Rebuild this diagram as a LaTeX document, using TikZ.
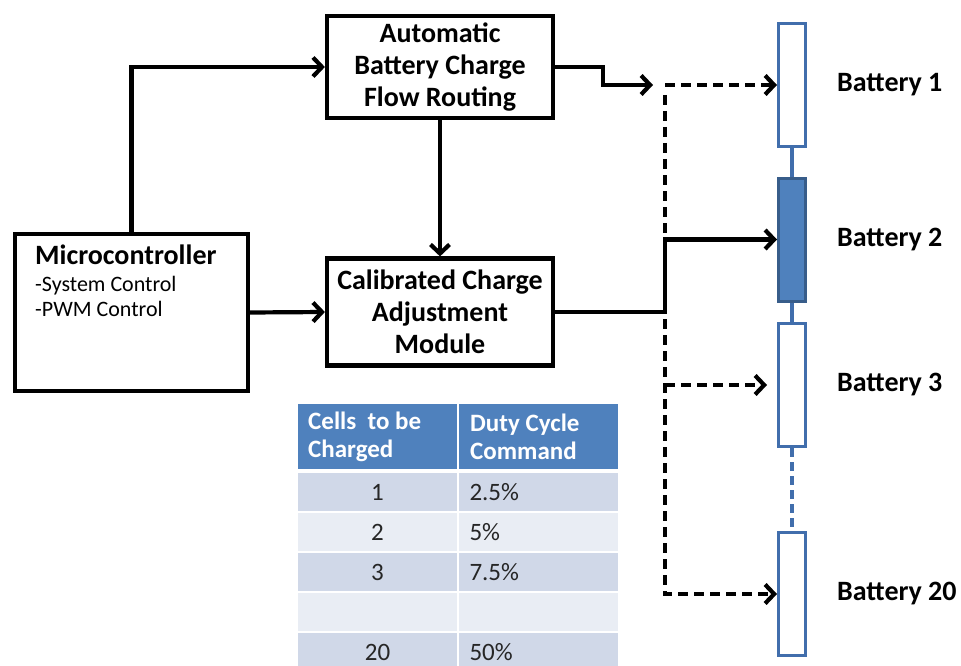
\documentclass[tikz,border=0pt]{standalone}
\usepackage{fontspec}
\setmainfont{Carlito}
\usetikzlibrary{positioning,arrows.meta,calc}

\definecolor{cellblue}{RGB}{79,129,189}
\definecolor{battedge}{RGB}{65,110,172}
\definecolor{battdark}{RGB}{56,93,138}
\definecolor{rowdark}{RGB}{208,216,232}
\definecolor{rowlight}{RGB}{233,237,244}
\definecolor{tabtext}{RGB}{38,38,38}

\begin{document}
\begin{tikzpicture}[
  x=1pt, y=-1pt,
  block/.style={draw=black, line width=4.2pt, minimum width=226pt, align=center, inner sep=0pt, font=\fontsize{28}{32}\selectfont\bfseries},
  batt/.style={draw=battedge, line width=3pt, fill=white, minimum width=27pt, minimum height=123pt, inner sep=0pt},
  battlabel/.style={inner sep=0pt, font=\fontsize{28}{32}\selectfont\bfseries},
  cell/.style={draw=white, line width=2pt, inner sep=0pt, minimum width=161pt, minimum height=40pt, font=\fontsize{25}{28}\selectfont, text=tabtext},
  cellhead/.style={align=left, inner sep=0pt, text=white, font=\fontsize{25}{28}\selectfont\bfseries},
  arr/.style={-{Straight Barb[length=9pt, width=19pt, line width=4.2pt]}, line width=4.2pt},
  darr/.style={arr, dash pattern=on 10pt off 6pt},
  link/.style={draw=battedge, line width=3.5pt}
]
\useasboundingbox (0,0) rectangle (961,666);

%% ---------- Blocks ----------
\node[draw=black, line width=4.2pt, minimum width=233pt, minimum height=157pt] (micro) at (131.5,312.5) {};
\node[anchor=west, inner sep=0pt, font=\fontsize{28}{32}\selectfont\bfseries] (microtitle) at (35,255) {Microcontroller};
\node[anchor=west, align=left, inner sep=0pt, font=\fontsize{22}{25}\selectfont] (microsub) at (35,296.5) {-System Control\\-PWM Control};

\node[block, minimum height=102pt] (auto)  at (440,67)  {Automatic\\Battery Charge\\Flow Routing};
\node[block, minimum height=107pt] (calib) at (440,312) {Calibrated Charge\\Adjustment\\Module};

%% ---------- Battery string ----------
\node[batt] (batt1)  at (792,85)    {};
\node[batt, fill=cellblue, draw=battdark] (batt2) at (792,239.5) {};
\node[batt] (batt3)  at (792,385)   {};
\node[batt] (batt20) at (792,594)   {};

\draw[link] (batt1.south) -- (batt2.north);
\draw[link] (batt2.south) -- (batt3.north);
\draw[link, dash pattern=on 9pt off 5pt] (batt3.south) -- (batt20.north);

\node[battlabel, anchor=west, right=30pt of batt1.east]  (lab1)  {Battery 1};
\node[battlabel, anchor=west, right=30pt of batt2.east]  (lab2)  {Battery 2};
\node[battlabel, anchor=west, right=30pt of batt3.east]  (lab3)  {Battery 3};
\node[battlabel, anchor=west, right=30pt of batt20.east] (lab20) {Battery 20};

%% ---------- Connectors ----------
\coordinate (bus) at (665,85);

\draw[arr] (micro.north) |- (auto.west);
\draw[arr] (micro.east) -- (calib.west);
\draw[arr] (auto.south) -- (calib.north);
\draw[arr] (auto.east) -- ++(48,0) |- ($(bus)+(-12,0)$);

% dashed bus: top branch, down to battery 20, tap to battery 3
\draw[darr] (bus) -- (batt1.west);
\draw[darr] ($(bus)+(0,10)$) |- (batt20.west);
\draw[darr, shorten >=10pt] (bus |- batt3.west) -- (batt3.west);

% solid feed to battery 2
\draw[arr] (calib.east) -- (calib.east -| bus) |- (batt2.west);

%% ---------- Duty cycle table ----------
\node[cell, fill=cellblue, minimum height=67pt] (headA) at (377.5,436.5) {};
\node[cell, fill=cellblue, minimum height=67pt] (headB) at (538,436.5) {};
\node[cellhead, anchor=west] at (308,436.5) {Cells\ \ to be\\Charged};
\node[cellhead, anchor=west] at (470,436.5) {Duty Cycle\\Command};

\foreach \cells/\duty/\shade [count=\r] in {1/2.5\%/rowdark, 2/5\%/rowlight, 3/7.5\%/rowdark, {}/{}/rowlight, 20/50\%/rowdark} {
  \node[cell, fill=\shade] (cellA\r) at (377.5,{452+40*\r}) {\cells};
  \node[cell, fill=\shade] (cellB\r) at (538,{452+40*\r}) {};
  \node[cell, draw=none, minimum width=0pt, anchor=west] at ($(cellB\r.west)+(12,0)$) {\duty};
}

\end{tikzpicture}
\end{document}
